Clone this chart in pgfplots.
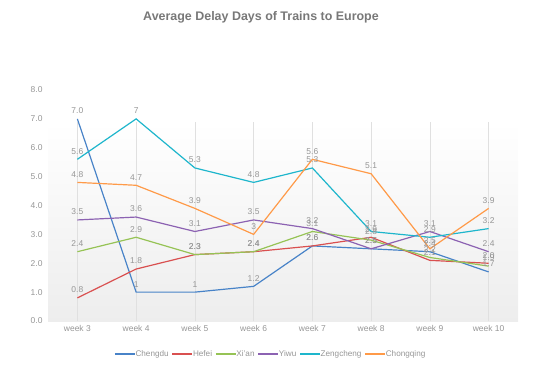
\documentclass[border=0pt]{standalone}
\usepackage{pgfplots}
\pgfplotsset{compat=1.18}
\usepackage{pgfplotstable}
\usepackage{fontspec}
\setmainfont{Liberation Sans}
\definecolor{cCh}{RGB}{72,131,200}
\definecolor{cHf}{RGB}{217,80,80}
\definecolor{cXa}{RGB}{150,195,85}
\definecolor{cYw}{RGB}{140,98,178}
\definecolor{cZc}{RGB}{30,182,204}
\definecolor{cCq}{RGB}{255,154,72}
\definecolor{tgray}{RGB}{150,150,150}
\definecolor{ttl}{RGB}{120,120,120}

\pgfplotstableread{
x y l
0 7.0 7.0
1 1 1
2 1 1
3 1.2 1.2
4 2.6 2.6
5 2.5 2.5
6 2.4 2.4
7 1.7 1.7
}\Chengdu
\pgfplotstableread{
x y l
0 0.8 0.8
1 1.8 1.8
2 2.3 2.3
3 2.4 2.4
4 2.6 2.6
5 2.9 2.9
6 2.1 2.1
7 2.0 2.0
}\Hefei
\pgfplotstableread{
x y l
0 2.4 2.4
1 2.9 2.9
2 2.3 2.3
3 2.4 2.4
4 3.1 3.1
5 2.8 2.8
6 2.2 2.2
7 1.9 1.9
}\Xian
\pgfplotstableread{
x y l
0 3.5 3.5
1 3.6 3.6
2 3.1 3.1
3 3.5 3.5
4 3.2 3.2
5 2.5 2.5
6 3.1 3.1
7 2.4 2.4
}\Yiwu
\pgfplotstableread{
x y l
0 5.6 5.6
1 7 7
2 5.3 5.3
3 4.8 4.8
4 5.3 5.3
5 3.1 3.1
6 2.9 2.9
7 3.2 3.2
}\Zengcheng
\pgfplotstableread{
x y l
0 4.8 4.8
1 4.7 4.7
2 3.9 3.9
3 3 3
4 5.6 5.6
5 5.1 5.1
6 2.5 2.5
7 3.9 3.9
}\Chongqing

\begin{document}
\begin{tikzpicture}[x=1bp,y=1bp]
\path (0,0) rectangle (543,366);
\node[font=\bfseries\fontsize{12.5}{14}\selectfont, text=ttl] at (261,349) {Average Delay Days of Trains to Europe};
\begin{axis}[
  at={(48bp,45bp)}, anchor=south west,
  scale only axis, width=470bp, height=231bp,
  xmin=-0.5, xmax=7.5, ymin=0, ymax=8,
  axis line style={draw=none},
  tick style={draw=none},
  xtick={0,...,7},
  xticklabels={week 3,week 4,week 5,week 6,week 7,week 8,week 9,week 10},
  ytick={0,1,...,8},
  yticklabel style={/pgf/number format/fixed, /pgf/number format/fixed zerofill, /pgf/number format/precision=1, xshift=-2bp},
  /pgf/number format/assume math mode=true,
  ticklabel style={font=\fontsize{8.5}{10}\selectfont, text=tgray},
  xticklabel style={yshift=-1bp},
  every axis plot/.append style={line width=1.2pt},
  nodes near coords,
  point meta=explicit symbolic,
  every node near coord/.append style={font=\fontsize{8.5}{10}\selectfont, text=tgray, anchor=south, inner sep=1pt, yshift=3.5bp},
  legend style={at={(0.474,-0.143)}, anchor=center, draw=none, fill=none,
    font=\fontsize{8.2}{10}\selectfont, text=tgray, legend columns=6,
    /tikz/every even column/.append style={column sep=1bp},
    /tikz/every odd column/.append style={column sep=-2bp}},
  legend image code/.code={\draw[line width=1.5pt] (0,0) -- (0.7cm,0);},
  clip=false,
]
\fill[top color=white, bottom color=black!7, draw=none] (axis cs:-0.5,0) rectangle (axis cs:7.5,6.9);
\foreach \i in {0,...,7} {
  \edef\tmp{\noexpand\draw[black!12, line width=0.5pt] (axis cs:\i,0) -- (axis cs:\i,6.9);}
  \tmp
}
\addplot[cCh, no marks] table[x=x,y=y,meta=l] {\Chengdu};
\addlegendentry{Chengdu}
\addplot[cHf, no marks] table[x=x,y=y,meta=l] {\Hefei};
\addlegendentry{Hefei}
\addplot[cXa, no marks] table[x=x,y=y,meta=l] {\Xian};
\addlegendentry{Xi'an}
\addplot[cYw, no marks] table[x=x,y=y,meta=l] {\Yiwu};
\addlegendentry{Yiwu}
\addplot[cZc, no marks] table[x=x,y=y,meta=l] {\Zengcheng};
\addlegendentry{Zengcheng}
\addplot[cCq, no marks] table[x=x,y=y,meta=l] {\Chongqing};
\addlegendentry{Chongqing}
\end{axis}
\end{tikzpicture}
\end{document}
